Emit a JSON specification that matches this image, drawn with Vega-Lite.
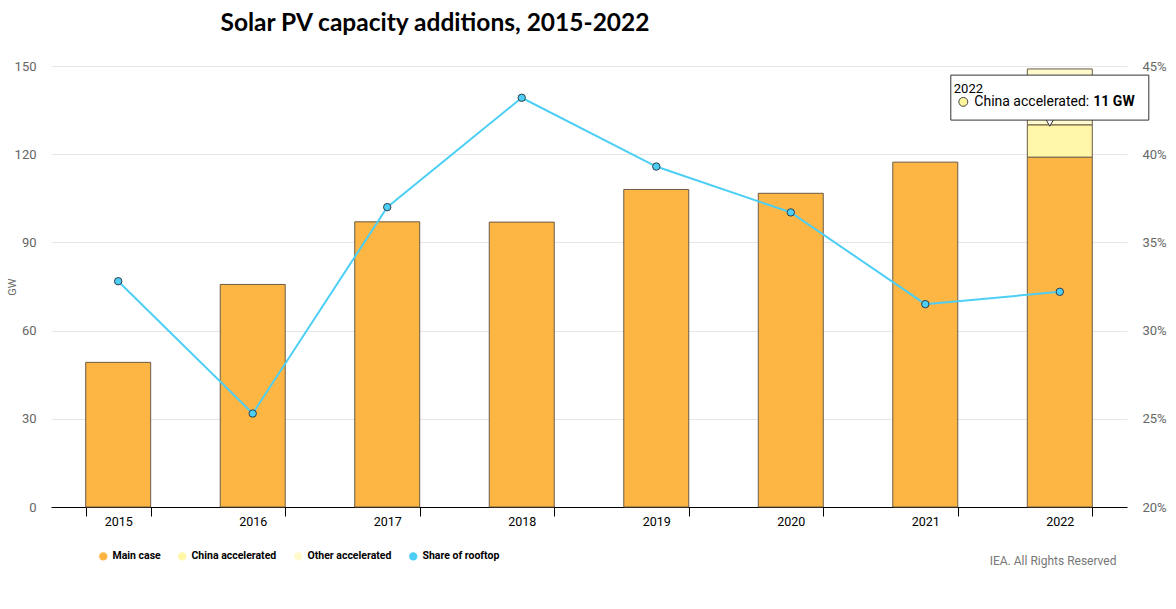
{
  "$schema": "https://vega.github.io/schema/vega-lite/v6.json",
  "width": 1076,
  "height": 441,
  "autosize": {"type": "none"},
  "padding": {"left": 51, "top": 66, "right": 49, "bottom": 102},
  "title": {
    "text": "Solar PV capacity additions, 2015-2022",
    "font": "Lato",
    "fontSize": 24.5,
    "fontWeight": "bold",
    "color": "#000000",
    "anchor": "middle",
    "frame": "group",
    "dx": -154,
    "offset": 5,
    "baseline": "alphabetic"
  },
  "config": {
    "view": {"stroke": null},
    "font": "Roboto",
    "axis": {"labelFont": "Roboto", "titleFont": "Roboto"}
  },
  "datasets": {
    "capacity": [
      {"year": "2015", "series": "Main case", "rank": 1, "gw": 49.2},
      {"year": "2016", "series": "Main case", "rank": 1, "gw": 75.7},
      {"year": "2017", "series": "Main case", "rank": 1, "gw": 97.0},
      {"year": "2018", "series": "Main case", "rank": 1, "gw": 96.9},
      {"year": "2019", "series": "Main case", "rank": 1, "gw": 108.0},
      {"year": "2020", "series": "Main case", "rank": 1, "gw": 106.7},
      {"year": "2021", "series": "Main case", "rank": 1, "gw": 117.3},
      {"year": "2022", "series": "Main case", "rank": 1, "gw": 119.0},
      {"year": "2022", "series": "China accelerated", "rank": 2, "gw": 11.0},
      {"year": "2022", "series": "Other accelerated", "rank": 3, "gw": 19.0}
    ],
    "rooftop": [
      {"year": "2015", "share": 0.328},
      {"year": "2016", "share": 0.253},
      {"year": "2017", "share": 0.370},
      {"year": "2018", "share": 0.432},
      {"year": "2019", "share": 0.393},
      {"year": "2020", "share": 0.367},
      {"year": "2021", "share": 0.315},
      {"year": "2022", "share": 0.322}
    ]
  },
  "layer": [
    {
      "layer": [
        {
          "data": {"name": "capacity"},
          "mark": {"type": "bar", "stroke": "#6b5b45", "strokeWidth": 1},
          "encoding": {
            "x": {
              "field": "year",
              "type": "ordinal",
              "title": "IEA. All Rights Reserved",
              "scale": {"paddingInner": 0.517, "paddingOuter": 0.258},
              "axis": {
                "labelAngle": 0,
                "labelColor": "#000000",
                "labelFontSize": 12.5,
                "labelPadding": -1,
                "domainColor": "#000000",
                "tickColor": "#000000",
                "tickSize": 9,
                "tickBand": "extent",
                "grid": false,
                "titleColor": "#777777",
                "titleFontSize": 12,
                "titleFontWeight": "normal",
                "titleAnchor": "end",
                "titleAlign": "right",
                "titleBaseline": "middle",
                "titleX": 1065,
                "titleY": 53
              }
            },
            "y": {
              "field": "gw",
              "type": "quantitative",
              "stack": "zero",
              "title": "GW",
              "scale": {"domain": [0, 150], "nice": false},
              "axis": {
                "values": [0, 30, 60, 90, 120, 150],
                "domain": false,
                "ticks": false,
                "grid": true,
                "gridColor": "#e6e6e6",
                "labelColor": "#666666",
                "labelFontSize": 13,
                "labelPadding": 15,
                "titleColor": "#666666",
                "titleFontSize": 11,
                "titleFontWeight": "normal",
                "titlePadding": -3
              }
            },
            "color": {
              "field": "series",
              "type": "nominal",
              "scale": {
                "domain": ["Main case", "China accelerated", "Other accelerated", "Share of rooftop"],
                "range": ["#fdb544", "#fff6a8", "#fffacd", "#4dcff5"]
              },
              "legend": {
                "title": null,
                "orient": "none",
                "direction": "horizontal",
                "legendX": 47,
                "legendY": 485,
                "padding": 0,
                "symbolType": "circle",
                "symbolSize": 70,
                "symbolStrokeWidth": 0,
                "symbolOpacity": 1,
                "labelFont": "Roboto",
                "labelFontSize": 10.5,
                "labelFontWeight": "bold",
                "labelColor": "#000000",
                "labelOffset": 4,
                "columnPadding": 16
              }
            },
            "order": {"field": "rank"}
          }
        },
        {
          "data": {"values": [{}]},
          "mark": {"type": "point", "shape": "triangle-down", "size": 100, "filled": true, "fill": "#ffffff", "stroke": "#333333", "strokeWidth": 1, "opacity": 1, "xOffset": -10},
          "encoding": {
            "x": {"datum": "2022", "type": "ordinal"},
            "y": {"datum": 131.0, "type": "quantitative"}
          }
        },
        {
          "data": {"values": [{}]},
          "mark": {"type": "bar", "width": 198, "xOffset": -10, "fill": "#ffffff", "stroke": "#333333", "strokeWidth": 1},
          "encoding": {
            "x": {"datum": "2022", "type": "ordinal"},
            "y": {"datum": 146.9, "type": "quantitative"},
            "y2": {"datum": 131.6}
          }
        },
        {
          "data": {"values": [{}]},
          "mark": {"type": "text", "text": "2022", "align": "left", "baseline": "middle", "dx": -106, "font": "Roboto", "fontSize": 13, "color": "#000000"},
          "encoding": {
            "x": {"datum": "2022", "type": "ordinal"},
            "y": {"datum": 142.2, "type": "quantitative"}
          }
        },
        {
          "data": {"values": [{}]},
          "mark": {"type": "point", "shape": "circle", "size": 80, "filled": true, "fill": "#fff59d", "stroke": "#444444", "strokeWidth": 1, "opacity": 1, "xOffset": -96.5},
          "encoding": {
            "x": {"datum": "2022", "type": "ordinal"},
            "y": {"datum": 137.8, "type": "quantitative"}
          }
        },
        {
          "data": {"values": [{}]},
          "mark": {"type": "text", "text": "China accelerated:", "align": "left", "baseline": "middle", "dx": -85.5, "font": "Roboto", "fontSize": 14, "color": "#000000"},
          "encoding": {
            "x": {"datum": "2022", "type": "ordinal"},
            "y": {"datum": 137.8, "type": "quantitative"}
          }
        },
        {
          "data": {"values": [{}]},
          "mark": {"type": "text", "text": "11 GW", "align": "left", "baseline": "middle", "dx": 33.5, "font": "Roboto", "fontSize": 14, "fontWeight": "bold", "color": "#000000"},
          "encoding": {
            "x": {"datum": "2022", "type": "ordinal"},
            "y": {"datum": 137.8, "type": "quantitative"}
          }
        }
      ]
    },
    {
      "data": {"name": "rooftop"},
      "encoding": {
        "x": {"field": "year", "type": "ordinal"},
        "y": {
          "field": "share",
          "type": "quantitative",
          "title": null,
          "scale": {"domain": [0.2, 0.45], "nice": false},
          "axis": {
            "orient": "right",
            "format": ".0%",
            "values": [0.2, 0.25, 0.3, 0.35, 0.4, 0.45],
            "domain": false,
            "ticks": false,
            "grid": false,
            "labelColor": "#666666",
            "labelFontSize": 13,
            "labelPadding": 15
          }
        },
        "color": {"datum": "Share of rooftop", "type": "nominal", "legend": null}
      },
      "layer": [
        {"mark": {"type": "line", "strokeWidth": 2}},
        {"mark": {"type": "point", "filled": true, "size": 55, "opacity": 1, "stroke": "#2d3e48", "strokeWidth": 1}}
      ]
    }
  ],
  "resolve": {"scale": {"y": "independent"}}
}
